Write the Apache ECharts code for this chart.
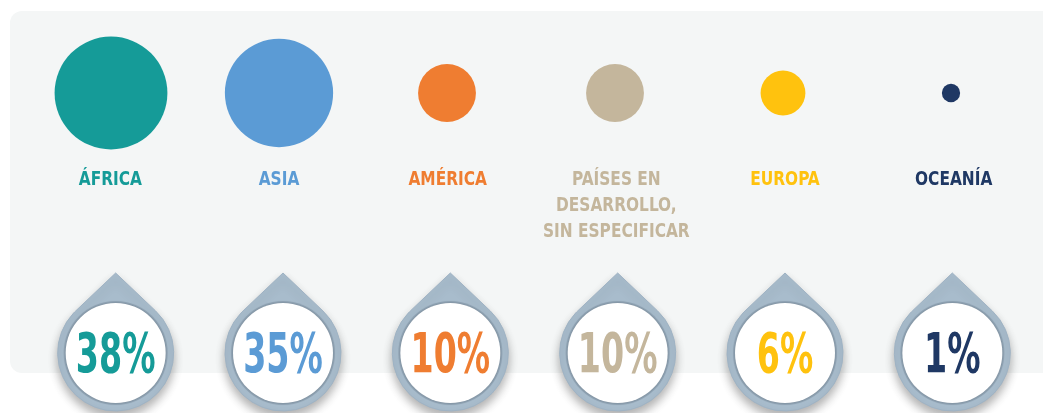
<!DOCTYPE html>
<html>
<head>
<meta charset="utf-8">
<script src="https://cdn.jsdelivr.net/npm/echarts@6/dist/echarts.min.js"></script>
<style>
  html, body { margin: 0; padding: 0; background: #fff; }
  #chart { width: 1043px; height: 413px; }
</style>
</head>
<body>
<div id="chart"></div>
<script>
// regiones y su peso (%)
var categories = ['ÁFRICA', 'ASIA', 'AMÉRICA', 'PAÍSES EN\nDESARROLLO,\nSIN ESPECIFICAR', 'EUROPA', 'OCEANÍA'];
var shares = [38, 35, 10, 10, 6, 1];
var colors = ['#159b98', '#5b9bd5', '#ef7d31', '#c4b69c', '#ffc20e', '#1f3864'];

var FONT = "'Liberation Sans Narrow', 'DejaVu Sans Condensed', sans-serif";

var myChart = echarts.init(document.getElementById('chart'));

function hiddenX (i) {
  return { type: 'category', gridIndex: i, data: categories, boundaryGap: true, show: false };
}
function hiddenY (i) {
  return { type: 'category', gridIndex: i, data: ['row'], show: false };
}

var option = {
  animation: false,
  backgroundColor: '#fff',
  graphic: [
    {
      type: 'rect',
      z: -10,
      shape: { x: 10, y: 11, width: 1060, height: 362, r: 12 },
      style: { fill: '#f4f6f6' }
    }
  ],
  grid: [
    { left: 27, width: 1008, top: 37, height: 112 },   // burbujas
    { left: 26, width: 1012, top: 162, height: 10 },   // nombres
    { left: 32, width: 1004, top: 303, height: 100 }   // gotas con %
  ],
  xAxis: [hiddenX(0), hiddenX(1), hiddenX(2)],
  yAxis: [hiddenY(0), hiddenY(1), hiddenY(2)],
  series: [
    {
      type: 'scatter',
      xAxisIndex: 0,
      yAxisIndex: 0,
      symbol: 'circle',
      data: shares.map(function (v, i) { return [categories[i], 0, v]; }),
      symbolSize: function (val) { return 18.3 * Math.sqrt(val[2]); },
      itemStyle: {
        opacity: 1,
        color: function (p) { return colors[p.dataIndex]; }
      },
      silent: true
    },
    {
      type: 'custom',
      xAxisIndex: 1,
      yAxisIndex: 1,
      silent: true,
      data: categories.map(function (c) { return [c, 0]; }),
      renderItem: function (params, api) {
        var p = api.coord([api.value(0), api.value(1)]);
        return {
          type: 'text',
          x: p[0],
          y: p[1],
          scaleX: 0.9,
          style: {
            text: categories[params.dataIndex],
            fill: colors[params.dataIndex],
            font: 'bold 19px ' + FONT,
            lineHeight: 26,
            align: 'center',
            verticalAlign: 'top'
          }
        };
      }
    },
    {
      type: 'custom',
      xAxisIndex: 2,
      yAxisIndex: 2,
      silent: true,
      data: shares.map(function (v, i) { return [categories[i], 0, v]; }),
      renderItem: function (params, api) {
        var p = api.coord([api.value(0), api.value(1)]);
        var cx = p[0], cy = p[1];
        var R = 58, r = 50, d = 80;
        var py = R * R / d;
        var px = Math.sqrt(R * R - py * py);
        var drop = 'M' + cx + ' ' + (cy - d) +
          ' L' + (cx + px) + ' ' + (cy - py) +
          ' A' + R + ' ' + R + ' 0 1 1 ' + (cx - px) + ' ' + (cy - py) + ' Z';
        var color = colors[params.dataIndex];
        return {
          type: 'group',
          children: [
            {
              type: 'path',
              shape: { pathData: drop },
              style: {
                fill: '#a8bccc',
                stroke: '#9fb3c4',
                lineWidth: 1,
                shadowBlur: 10,
                shadowOffsetY: 6,
                shadowColor: 'rgba(0,0,0,0.3)'
              }
            },
            {
              type: 'circle',
              shape: { cx: cx, cy: cy, r: r + 2 },
              style: { fill: '#93a7b8' }
            },
            {
              type: 'circle',
              shape: { cx: cx, cy: cy, r: r },
              style: { fill: '#ffffff', shadowBlur: 3, shadowColor: 'rgba(0,0,0,0.25)' }
            },
            {
              type: 'text',
              x: cx,
              y: cy + 4,
              scaleX: 0.66,
              style: {
                text: api.value(2) + '%',
                fill: color,
                font: 'bold 56px ' + FONT,
                align: 'center',
                verticalAlign: 'middle'
              }
            }
          ]
        };
      }
    }
  ]
};

myChart.setOption(option);
myChart.resize();
</script>
</body>
</html>
